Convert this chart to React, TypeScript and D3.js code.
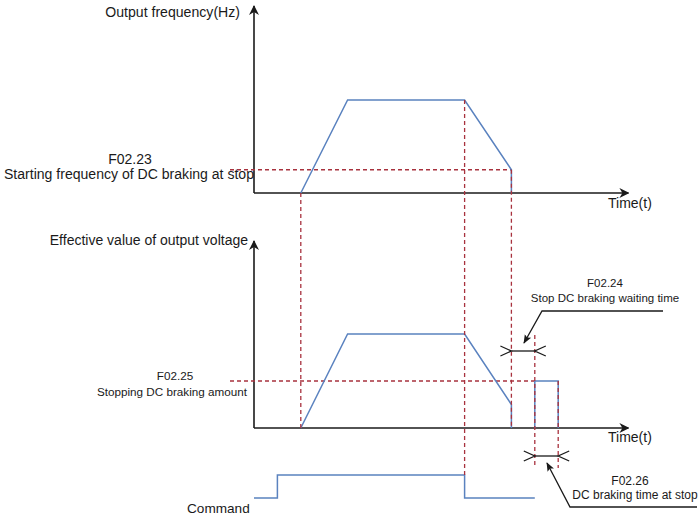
import React from 'react';
import * as d3 from 'd3';

// time units: 1 unit of the time axis
const timeMarks = { cmdOn: 1, rampStart: 2, rampTop: 4, cmdOff: 9, brakeFreqReached: 11, brakeStart: 12, brakeEnd: 13, axisEnd: 16 };

// output frequency (Hz) vs time
const freqTimes = [2, 4, 9, 11, 11];
const freqValues = [0, 50, 50, 12.5, 0];
const brakeFreq = 12.5;

// output voltage (%) vs time
const voltTimes = [2, 4, 9, 11, 11];
const voltValues = [0, 100, 100, 25, 0];
const brakePulseTimes = [12, 12, 13, 13];
const brakePulseValues = [0, 50, 50, 0];
const brakeAmount = 50;

// run command (0/1)
const cmdTimes = [0, 1, 1, 9, 9, 12];
const cmdValues = [0, 0, 1, 1, 0, 0];

const BLUE = '#5a82bf';
const RED = '#a8323e';
const INK = '#1a1a1a';
const FONT = 'Arial, "Liberation Sans", sans-serif';

export default function App() {
  const W = 698;
  const H = 519;
  const x = d3.scaleLinear().domain([0, 16]).range([254, 628.4]);
  const yF = d3.scaleLinear().domain([0, 50]).range([193, 100]);
  const yV = d3.scaleLinear().domain([0, 100]).range([428, 334]);
  const yC = d3.scaleLinear().domain([0, 1]).range([498, 475]);

  const line = d3.line<[number, number]>();
  const pts = (ts: number[], vs: number[], y: d3.ScaleLinear<number, number>) =>
    ts.map((t, i) => [x(t), y(vs[i])] as [number, number]);

  const freqPath = line(pts(freqTimes, freqValues, yF)) || '';
  const voltPath = line(pts(voltTimes, voltValues, yV)) || '';
  const pulsePath = line(pts(brakePulseTimes, brakePulseValues, yV)) || '';
  const cmdPath = line(pts(cmdTimes, cmdValues, yC)) || '';

  const dash = { stroke: RED, strokeWidth: 1.3, strokeDasharray: '4,3', fill: 'none' };
  const blue = { stroke: BLUE, strokeWidth: 1.5, fill: 'none' };
  const txt = { fontFamily: FONT, fill: INK };

  const x0 = x(0);
  const xEnd = x(timeMarks.axisEnd);

  // dimension marker: chevrons pointing at two times
  const dim = (t1: number, t2: number, yy: number) => {
    const a = x(t1);
    const b = x(t2);
    return (
      <g stroke={INK} strokeWidth={1.3} fill="none">
        <line x1={a} y1={yy} x2={b} y2={yy} />
        <polyline points={`${a - 11},${yy - 5} ${a},${yy} ${a - 11},${yy + 5}`} />
        <polyline points={`${b + 11},${yy - 5} ${b},${yy} ${b + 11},${yy + 5}`} />
      </g>
    );
  };

  return (
    <svg width={W} height={H} style={{ position: 'absolute', left: 0, top: 0 }}>
      <defs>
        <marker id="ah" viewBox="0 0 10 10" refX="9" refY="5" markerWidth="10" markerHeight="10" markerUnits="userSpaceOnUse" orient="auto">
          <path d="M0,0 L10,5 L0,10 L3,5 Z" fill={INK} />
        </marker>
        <marker id="ah2" viewBox="0 0 10 10" refX="9" refY="5" markerWidth="9" markerHeight="9" markerUnits="userSpaceOnUse" orient="auto">
          <path d="M0,1 L10,5 L0,9 L2,5 Z" fill={INK} />
        </marker>
      </defs>
      <rect width={W} height={H} fill="#fff" />

      {/* top chart: output frequency */}
      <line x1={x0} y1={yF(0)} x2={x0} y2={6} stroke={INK} strokeWidth={1.6} markerEnd="url(#ah)" />
      <line x1={x0} y1={yF(0)} x2={xEnd} y2={yF(0)} stroke={INK} strokeWidth={1.6} markerEnd="url(#ah)" />
      <line x1={230} y1={yF(brakeFreq)} x2={x(timeMarks.brakeFreqReached)} y2={yF(brakeFreq)} {...dash} />
      <path d={freqPath} {...blue} />

      {/* bottom chart: output voltage */}
      <line x1={x0} y1={yV(0)} x2={x0} y2={241} stroke={INK} strokeWidth={1.6} markerEnd="url(#ah)" />
      <line x1={x0} y1={yV(0)} x2={xEnd} y2={yV(0)} stroke={INK} strokeWidth={1.6} markerEnd="url(#ah)" />
      <line x1={230} y1={yV(brakeAmount)} x2={x(timeMarks.brakeStart)} y2={yV(brakeAmount)} {...dash} />
      <path d={voltPath} {...blue} />
      <path d={pulsePath} {...blue} />

      {/* command */}
      <path d={cmdPath} {...blue} />

      {/* vertical guides */}
      <line x1={x(timeMarks.rampStart)} y1={yF(0)} x2={x(timeMarks.rampStart)} y2={yV(0)} {...dash} />
      <line x1={x(timeMarks.cmdOff)} y1={yF(50)} x2={x(timeMarks.cmdOff)} y2={yC(1)} {...dash} />
      <line x1={x(timeMarks.brakeFreqReached)} y1={yF(brakeFreq)} x2={x(timeMarks.brakeFreqReached)} y2={yV(0)} {...dash} />
      <line x1={x(timeMarks.brakeStart)} y1={335} x2={x(timeMarks.brakeStart)} y2={468} {...dash} />
      <line x1={x(timeMarks.brakeEnd)} y1={yV(brakeAmount)} x2={x(timeMarks.brakeEnd)} y2={468} {...dash} />

      {/* dimension markers */}
      {dim(timeMarks.brakeFreqReached, timeMarks.brakeStart, 351)}
      {dim(timeMarks.brakeStart, timeMarks.brakeEnd, 456)}

      {/* leaders */}
      <polyline points={`663,311 542,311 524,343`} stroke={INK} strokeWidth={1.3} fill="none" markerEnd="url(#ah2)" />
      <polyline points={`697,507 570,507 547,463`} stroke={INK} strokeWidth={1.3} fill="none" markerEnd="url(#ah2)" />

      {/* texts */}
      <text x={240} y={17} textAnchor="end" fontSize={14.1} {...txt}>Output frequency(Hz)</text>
      <text x={130} y={164} textAnchor="middle" fontSize={14} {...txt}>F02.23</text>
      <text x={4} y={179} fontSize={14} {...txt} textLength={250} lengthAdjust="spacingAndGlyphs">Starting frequency of DC braking at stop</text>
      <text x={608} y={208} fontSize={14} {...txt}>Time(t)</text>

      <text x={248} y={245} textAnchor="end" fontSize={14} {...txt}>Effective value of output voltage</text>
      <text x={175} y={380} textAnchor="middle" fontSize={11.7} {...txt}>F02.25</text>
      <text x={172} y={396} textAnchor="middle" fontSize={11.7} {...txt}>Stopping DC braking amount</text>
      <text x={605} y={287} textAnchor="middle" fontSize={11.5} {...txt}>F02.24</text>
      <text x={605} y={302} textAnchor="middle" fontSize={11.5} {...txt}>Stop DC braking waiting time</text>
      <text x={608} y={442} fontSize={14} {...txt}>Time(t)</text>
      <text x={630} y={485} textAnchor="middle" fontSize={12} {...txt}>F02.26</text>
      <text x={635} y={499} textAnchor="middle" fontSize={12} {...txt}>DC braking time at stop</text>
      <text x={187} y={513} fontSize={13.6} {...txt}>Command</text>
    </svg>
  );
}
